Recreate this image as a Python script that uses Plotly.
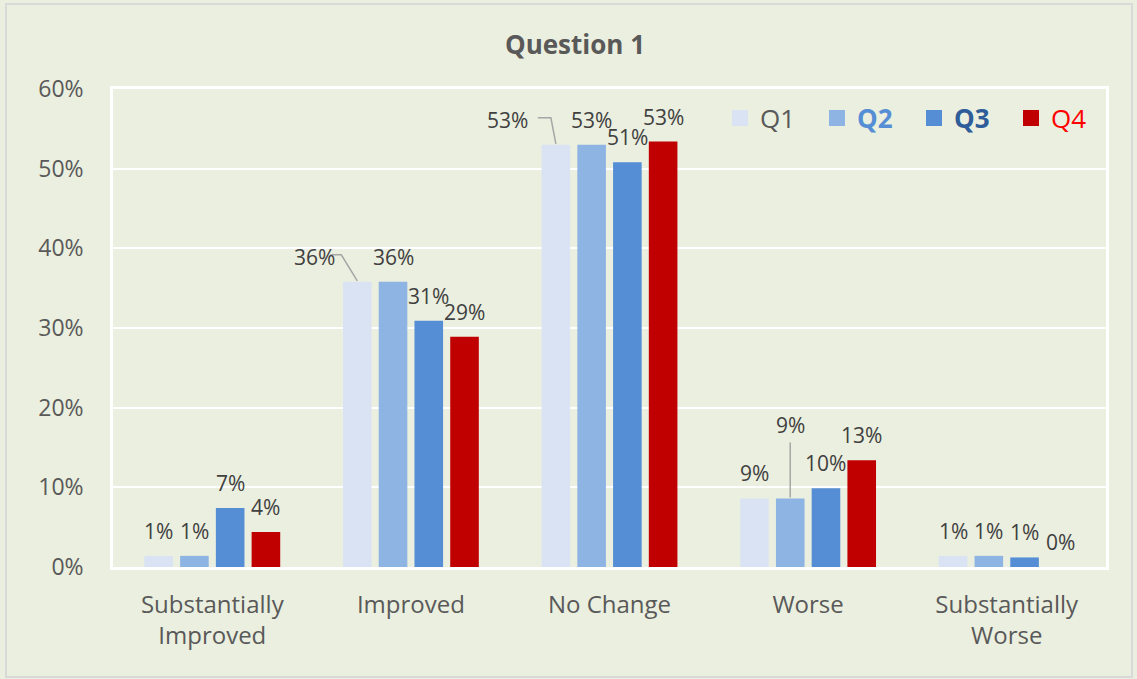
import plotly.graph_objects as go

# ---- data ----
categories = ["Substantially<br>Improved", "Improved", "No Change", "Worse", "Substantially<br>Worse"]
series_names = ["Q1", "Q2", "Q3", "Q4"]
q1 = [0.014, 0.358, 0.530, 0.086, 0.014]
q2 = [0.014, 0.358, 0.530, 0.086, 0.014]
q3 = [0.074, 0.309, 0.508, 0.099, 0.012]
q4 = [0.044, 0.289, 0.534, 0.134, 0.000]
y_ticks = [0, 0.1, 0.2, 0.3, 0.4, 0.5, 0.6]

series = [q1, q2, q3, q4]
bar_colors = ["#DAE3F3", "#8EB4E3", "#558ED5", "#C00000"]
legend_labels = [
    "<span style='color:#595959'>Q1</span>",
    "<span style='color:#558ED5'><b>Q2</b></span>",
    "<span style='color:#2F5D9A'><b>Q3</b></span>",
    "<span style='color:#FF0000'>Q4</span>",
]

FONT = "Open Sans"
BG = "#EBEFDF"
BARGAP = 0.28
BARGROUPGAP = 0.2

# plot-area geometry (pixels)
W, H = 1137, 679
ML, MR, MT, MB = 113, 31, 89, 112
plot_w = W - ML - MR
plot_h = H - MT - MB
cat_px = plot_w / len(categories)
slot = (1 - BARGAP) / len(series)
offsets = [(-(1 - BARGAP) / 2 + slot * (i + 0.5)) for i in range(len(series))]

fig = go.Figure()
for i, (name, vals) in enumerate(zip(series_names, series)):
    fig.add_trace(go.Bar(
        x=categories, y=vals, name=name,
        marker=dict(color=bar_colors[i], line=dict(width=0)),
        showlegend=False, hoverinfo="skip",
    ))
# legend entries (larger square swatches)
for i, name in enumerate(series_names):
    fig.add_trace(go.Scatter(
        x=[None], y=[None], mode="markers", name=legend_labels[i],
        marker=dict(symbol="square", size=18, color=bar_colors[i]),
        showlegend=True, hoverinfo="skip",
    ))

# data labels
nudges = {(0, 1): (-43, 0), (0, 2): (-48, 0), (1, 3): (0, 48)}
for si, vals in enumerate(series):
    for ci, v in enumerate(vals):
        dx, dy = nudges.get((si, ci), (0, 0))
        fig.add_annotation(
            x=ci, y=v, xref="x", yref="y",
            text=f"{round(v * 100):.0f}%",
            showarrow=False,
            xshift=offsets[si] * cat_px + dx, yshift=25 + dy,
            font=dict(family=FONT, size=21, color="#404040"),
        )

# leader lines (relative to bar top)
leaders = [
    (0, 1, "M -27,27 L -16,27 L 0,1"),
    (0, 2, "M -18,27 L -5,27 L 0,1"),
    (1, 3, "M 0,56 L 0,1"),
]
for si, ci, path in leaders:
    fig.add_shape(
        type="path", xref="x", yref="y",
        xsizemode="pixel", ysizemode="pixel",
        xanchor=ci + offsets[si], yanchor=series[si][ci],
        path=path, line=dict(color="#A6A6A6", width=1.5),
    )

# outer chart border
fig.add_shape(
    type="rect", xref="paper", yref="paper",
    x0=(6 - ML) / plot_w, x1=(1132 - ML) / plot_w,
    y0=(H - MB - 677) / plot_h, y1=(H - MB - 4) / plot_h,
    line=dict(color="#D9D9D9", width=2), fillcolor="rgba(0,0,0,0)", layer="below",
)

fig.update_layout(
    width=W, height=H,
    margin=dict(l=ML, r=MR, t=MT, b=MB, autoexpand=False),
    paper_bgcolor=BG, plot_bgcolor=BG,
    barmode="group", bargap=BARGAP, bargroupgap=BARGROUPGAP,
    title=dict(
        text="<b>Question 1</b>", x=575 / W, xref="container",
        y=1 - 45 / H, yref="container", xanchor="center", yanchor="middle",
        font=dict(family=FONT, size=26, color="#595959"),
    ),
    font=dict(family=FONT, color="#595959"),
    legend=dict(
        orientation="h", x=(720 - ML) / plot_w, xanchor="left",
        y=(H - MB - 118) / plot_h, yanchor="middle",
        bgcolor="rgba(0,0,0,0)", font=dict(family=FONT, size=26, color="#595959"),
        entrywidth=52, entrywidthmode="pixels", itemclick=False, itemdoubleclick=False,
    ),
    showlegend=True,
)
fig.update_xaxes(
    type="category", showgrid=False, zeroline=False,
    showline=True, mirror=True, linecolor="white", linewidth=2.5,
    tickfont=dict(family=FONT, size=24, color="#595959"),
    ticks="", ticklabelstandoff=14, fixedrange=True,
)
fig.update_yaxes(
    range=[0, 0.6], tickvals=y_ticks, tickformat=".0%",
    showgrid=True, gridcolor="white", gridwidth=1.5, zeroline=False,
    showline=True, mirror=True, linecolor="white", linewidth=2.5,
    tickfont=dict(family=FONT, size=23, color="#595959"),
    ticks="", ticklabelstandoff=22, fixedrange=True,
)

fig.write_html("out.html", config={"displayModeBar": False})
